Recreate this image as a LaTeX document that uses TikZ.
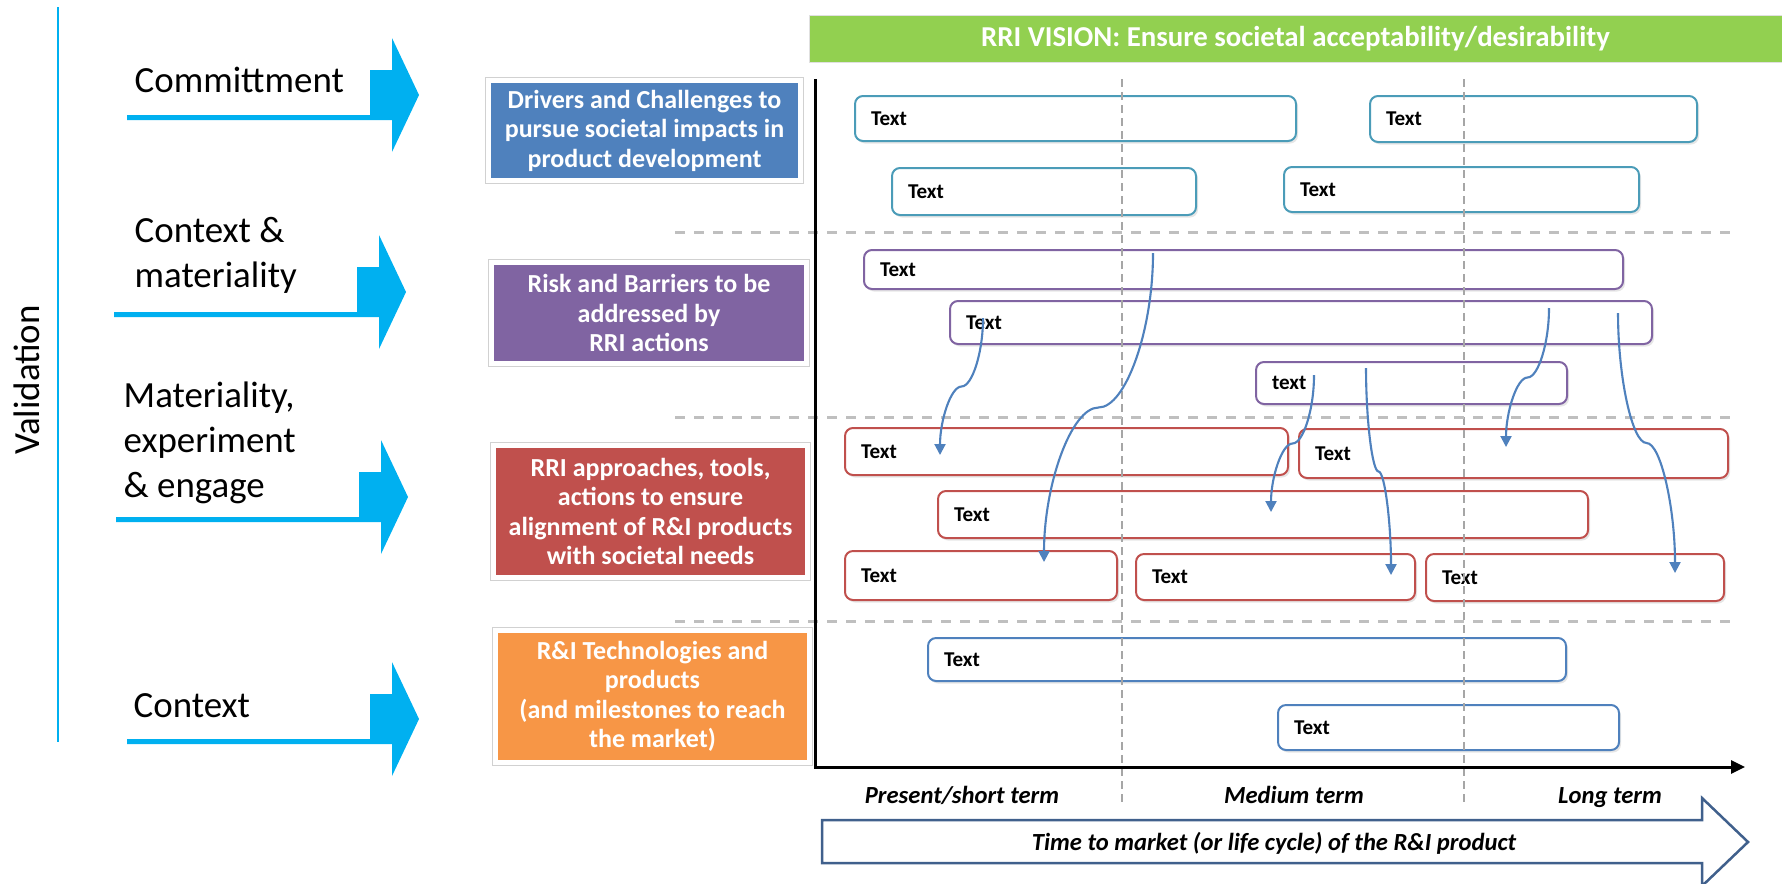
\documentclass[tikz,border=0pt]{standalone}
\usepackage{fontspec}
\setmainfont{Carlito}
\usetikzlibrary{arrows.meta,calc,shadows}

\definecolor{rriblue}{RGB}{79,129,189}
\definecolor{rripurple}{RGB}{128,100,162}
\definecolor{rrired}{RGB}{192,80,77}
\definecolor{rriorange}{RGB}{247,150,70}
\definecolor{rrigreen}{RGB}{146,208,80}
\definecolor{rriteal}{RGB}{75,156,184}
\definecolor{rricyan}{RGB}{0,176,240}
\definecolor{rrinavy}{RGB}{64,96,140}

% curved connector: vertical at both ends, flat in the middle
\newcommand{\curvelink}[2]{%
  \draw[link] let \p1=(#1), \p2=(#2) in
    (#1) .. controls (\x1,{(3*\y1+\y2)/4}) and ({(3*\x1+\x2)/4},{(\y1+\y2)/2})
    .. ({(\x1+\x2)/2},{(\y1+\y2)/2})
    .. controls ({(\x1+3*\x2)/4},{(\y1+\y2)/2}) and (\x2,{(\y1+3*\y2)/4}) .. (#2);}

\begin{document}
\begin{tikzpicture}[
    y=-1cm,
    phase/.style={
        font=\fontsize{10.5}{12.8}\selectfont,
        align=left,
        inner sep=0
    },
    category/.style={
        fill=#1,
        draw=white,
        line width=0.05cm,
        drop shadow={shadow xshift=0.03cm, shadow yshift=-0.03cm, opacity=0.25},
        preaction={draw=black!18, line width=0.07cm},
        text=white,
        align=center,
        inner sep=0,
        font=\fontsize{7.4}{8.4}\selectfont\bfseries
    },
    textbox/.style={
        draw=#1,
        fill=white,
        line width=0.02cm,
        rounded corners=0.08cm,
        align=left,
        inner xsep=0.16cm,
        inner ysep=0,
        drop shadow={shadow xshift=0.02cm, shadow yshift=-0.025cm, opacity=0.2},
        font=\fontsize{6}{7}\selectfont\bfseries
    },
    banner/.style={
        fill=rrigreen,
        draw=black!12,
        line width=0.01cm,
        text=white,
        inner sep=0,
        font=\fontsize{8.2}{10}\selectfont\bfseries
    },
    term/.style={
        inner sep=0,
        font=\fontsize{7}{8}\selectfont\bfseries\itshape
    },
    axis/.style={
        line width=0.03cm,
        -{Triangle[length=0.14cm,width=0.13cm]}
    },
    vgrid/.style={draw=black!35, line width=0.02cm, dash pattern=on 0.08cm off 0.05cm},
    hgrid/.style={draw=black!25, line width=0.03cm, dash pattern=on 0.10cm off 0.09cm},
    timearrow/.style={draw=rrinavy, line width=0.025cm, fill=white},
    link/.style={
        draw=rriblue,
        line width=0.6pt,
        -{Triangle[length=0.11cm,width=0.11cm]}
    }
]
\useasboundingbox (0,0) rectangle (17.82,8.83);

% Validation side
\node[phase, rotate=90] (validation) at (0.27,3.80) {Validation};
\draw[rricyan, line width=0.025cm] (0.58,0.07) -- (0.58,7.42);

\node[phase, anchor=base west] (commit) at (1.34,0.92) {Committment};
\node[phase, anchor=west] (context) at (1.34,2.55) {Context \&\\materiality};
\node[phase, anchor=west] (engage) at (1.23,4.43) {Materiality,\\experiment\\\& engage};
\node[phase, anchor=base west] (contextonly) at (1.33,7.17) {Context};

\foreach \xa/\xs/\yc in {1.27/3.70/0.95, 1.14/3.57/2.92, 1.16/3.59/4.97, 1.27/3.70/7.19}
  \fill[rricyan] (\xa,\yc+0.20) -- (\xs,\yc+0.20) -- (\xs,\yc-0.25) -- (\xs+0.22,\yc-0.25)
    -- (\xs+0.22,\yc-0.57) -- (\xs+0.49,\yc) -- (\xs+0.22,\yc+0.57) -- (\xs+0.22,\yc+0.25)
    -- (\xa,\yc+0.25) -- cycle;

% Categories
\node[category=rriblue, minimum width=3.12cm, minimum height=1.00cm] (drivers) at (6.445,1.305)
    {Drivers and Challenges to\\pursue societal impacts in\\product development};
\node[category=rripurple, minimum width=3.15cm, minimum height=1.01cm] (risks) at (6.49,3.13)
    {Risk and Barriers to be\\addressed by\\RRI actions};
\node[category=rrired, minimum width=3.14cm, minimum height=1.32cm] (approaches) at (6.505,5.115)
    {RRI approaches, tools,\\actions to ensure\\alignment of R\&I products\\with societal needs};
\node[category=rriorange, minimum width=3.14cm, minimum height=1.32cm] (technologies) at (6.525,6.965)
    {R\&I Technologies and\\products\\(and milestones to reach\\the market)};

% Vision banner
\node[banner, minimum width=9.73cm, minimum height=0.47cm] (vision) at (12.955,0.385)
    {RRI VISION: Ensure societal acceptability/desirability};

% Text boxes
\node[textbox=rriteal, text width=4.09cm, minimum height=0.45cm] (drv1) at (10.755,1.185) {Text};
\node[textbox=rriteal, text width=2.95cm, minimum height=0.46cm] (drv2) at (15.335,1.19) {Text};
\node[textbox=rriteal, text width=2.72cm, minimum height=0.47cm] (drv3) at (10.44,1.915) {Text};
\node[textbox=rriteal, text width=3.23cm, minimum height=0.45cm] (drv4) at (14.615,1.895) {Text};

\node[textbox=rripurple, text width=7.27cm, minimum height=0.39cm] (risk1) at (12.435,2.695) {Text};
\node[textbox=rripurple, text width=6.70cm, minimum height=0.43cm] (risk2) at (13.01,3.225) {Text};
\node[textbox=rripurple, text width=2.79cm, minimum height=0.42cm] (risk3) at (14.115,3.83) {text};

\node[textbox=rrired, text width=4.11cm, minimum height=0.47cm] (act1) at (10.665,4.515) {Text};
\node[textbox=rrired, text width=3.97cm, minimum height=0.49cm] (act2) at (15.135,4.535) {Text};
\node[textbox=rrired, text width=6.18cm, minimum height=0.47cm] (act3) at (12.63,5.145) {Text};
\node[textbox=rrired, text width=2.40cm, minimum height=0.49cm] (act4) at (9.81,5.755) {Text};
\node[textbox=rrired, text width=2.47cm, minimum height=0.46cm] (act5) at (12.755,5.77) {Text};
\node[textbox=rrired, text width=2.66cm, minimum height=0.47cm] (act6) at (15.75,5.775) {Text};

\node[textbox=rriblue, text width=6.06cm, minimum height=0.43cm] (tech1) at (12.47,6.595) {Text};
\node[textbox=rriblue, text width=3.09cm, minimum height=0.45cm] (tech2) at (14.485,7.275) {Text};

% Grid
\foreach \x in {11.22,14.64}
  \draw[vgrid] (\x,0.79) -- (\x,8.03);
\foreach \y in {2.32,4.17,6.21}
  \draw[hgrid] (6.75,\y) -- (17.30,\y);

% Axes
\coordinate (ytop) at (8.15,0.79);
\coordinate (origin) at (8.15,7.67);
\coordinate (xend) at (17.45,7.67);
\draw[axis] (ytop) -- (origin) -- (xend);

\node[term, anchor=base] (short) at (9.62,8.03) {Present/short term};
\node[term, anchor=base] (medium) at (12.94,8.03) {Medium term};
\node[term, anchor=base] (long) at (16.10,8.03) {Long term};

\draw[timearrow] (8.22,8.20) -- (17.02,8.20) -- (17.02,7.98) -- (17.48,8.42)
    -- (17.02,8.86) -- (17.02,8.63) -- (8.22,8.63) -- cycle;
\node[term] (timeline) at (12.74,8.43) {Time to market (or life cycle) of the R\&I product};

% Links
\coordinate (s1) at (9.83,3.18);  \coordinate (e1) at (9.40,4.55);
\coordinate (s2) at (11.53,2.53); \coordinate (e2) at (10.44,5.62);
\coordinate (s3) at (13.14,3.75); \coordinate (e3) at (12.71,5.12);
\coordinate (s4) at (13.66,3.68); \coordinate (e4) at (13.91,5.75);
\coordinate (s5) at (15.49,3.08); \coordinate (e5) at (15.06,4.47);
\coordinate (s6) at (16.18,3.13); \coordinate (e6) at (16.75,5.73);
\foreach \i in {1,...,6}
  \curvelink{s\i}{e\i};

\end{tikzpicture}
\end{document}
